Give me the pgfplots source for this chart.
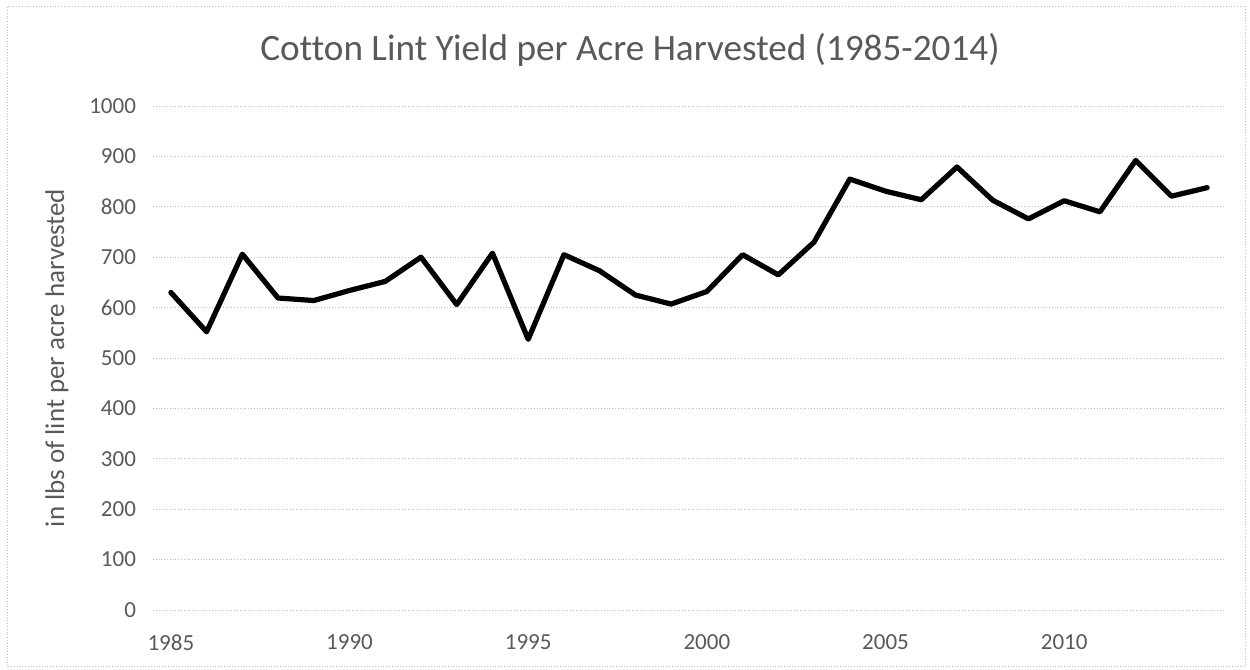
\documentclass[border=0pt]{standalone}
\usepackage{pgfplots}
\pgfplotsset{compat=1.18}
\usepackage{fontspec}
\setmainfont[Ligatures=NoCommon]{Carlito}
\definecolor{txt}{HTML}{595959}
\definecolor{gridc}{HTML}{BFBFBF}
\begin{document}
\begin{tikzpicture}[x=0.5pt,y=0.5pt]
% chart frame (pixel units, y up)
\path[use as bounding box] (0,0) rectangle (1250,670);
\draw[gridc, densely dotted, line width=0.4pt] (7,4) rectangle (1245,664);
\node[txt, font=\fontsize{18.6}{22}\selectfont] at (630,620) {Cotton Lint Yield per Acre Harvested (1985-2014)};
\begin{axis}[
  at={(153*0.5pt,60*0.5pt)}, anchor=south west,
  scale only axis,
  width=536pt, height=252pt,
  xmin=1984.5, xmax=2014.5,
  ymin=0, ymax=1000,
  xtick={1985,1990,...,2010},
  ytick={0,100,...,1000},
  /pgf/number format/1000 sep={},
  x tick label style={yshift=-9pt},
  y tick label style={xshift=-5pt},
  ymajorgrids,
  grid style={gridc, densely dotted, line width=0.4pt},
  axis line style={draw=none},
  tick style={draw=none},
  ticklabel style={font=\fontsize{11.5}{13}\selectfont, text=txt},
  /pgf/number format/assume math mode=true,
  ylabel={in lbs of lint per acre harvested},
  ylabel style={font=\fontsize{13.5}{15}\selectfont, text=txt, at={(axis description cs:-0.0896,0.5)}, anchor=center},
  clip=false,
]
\addplot[black, line width=2.6pt, line join=round, line cap=round] coordinates {
(1985,630) (1986,552) (1987,706) (1988,619) (1989,614) (1990,634)
(1991,652) (1992,700) (1993,606) (1994,708) (1995,537) (1996,705)
(1997,673) (1998,625) (1999,607) (2000,632) (2001,705) (2002,665)
(2003,730) (2004,855) (2005,831) (2006,814) (2007,879) (2008,813)
(2009,776) (2010,812) (2011,790) (2012,892) (2013,821) (2014,838)
};
\end{axis}
\end{tikzpicture}
\end{document}
